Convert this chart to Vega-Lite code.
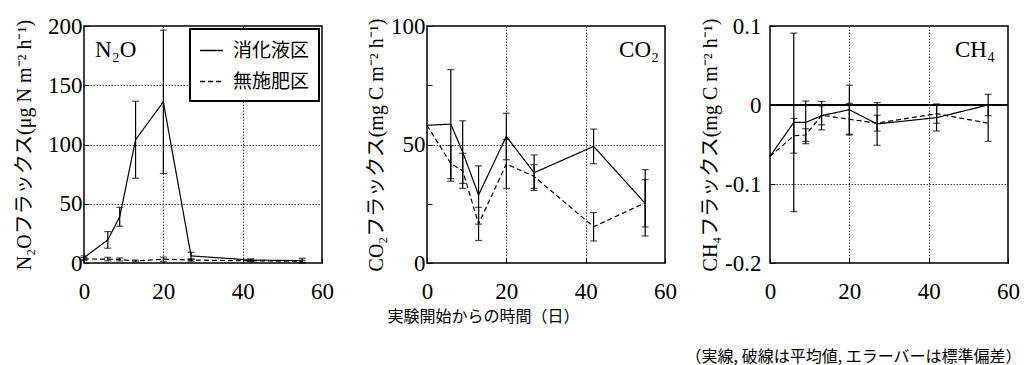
{
  "$schema": "https://vega.github.io/schema/vega-lite/v6.json",
  "padding": {"left": 13, "top": 14, "right": 0, "bottom": 0},
  "background": "white",
  "datasets": {
    "n2o": [
      {"day": 0, "series": "消化液区", "mean": 4.5, "sd": 1.5},
      {"day": 6, "series": "消化液区", "mean": 19.5, "sd": 7},
      {"day": 9, "series": "消化液区", "mean": 39, "sd": 8},
      {"day": 13, "series": "消化液区", "mean": 104, "sd": 32.5},
      {"day": 20, "series": "消化液区", "mean": 136, "sd": 60.5},
      {"day": 27, "series": "消化液区", "mean": 6, "sd": 3},
      {"day": 42, "series": "消化液区", "mean": 2.5, "sd": 1},
      {"day": 55, "series": "消化液区", "mean": 2, "sd": 2},
      {"day": 0, "series": "無施肥区", "mean": 3.4, "sd": 1.2},
      {"day": 6, "series": "無施肥区", "mean": 3.3, "sd": 1.5},
      {"day": 9, "series": "無施肥区", "mean": 3.0, "sd": 1.2},
      {"day": 13, "series": "無施肥区", "mean": 1.7, "sd": 0.8},
      {"day": 20, "series": "無施肥区", "mean": 3.2, "sd": 1.8},
      {"day": 27, "series": "無施肥区", "mean": 2.5, "sd": 1},
      {"day": 42, "series": "無施肥区", "mean": 1.8, "sd": 0.8},
      {"day": 55, "series": "無施肥区", "mean": 1.5, "sd": 0.8}
    ],
    "co2": [
      {"day": 0, "series": "消化液区", "mean": 58.1, "sd": null},
      {"day": 6, "series": "消化液区", "mean": 58.6, "sd": 23},
      {"day": 9, "series": "消化液区", "mean": 46.8, "sd": 13.2},
      {"day": 13, "series": "消化液区", "mean": 28.7, "sd": 12.3},
      {"day": 20, "series": "消化液区", "mean": 53.4, "sd": 9.8},
      {"day": 27, "series": "消化液区", "mean": 38.1, "sd": 7.5},
      {"day": 42, "series": "消化液区", "mean": 49.2, "sd": 7.3},
      {"day": 55, "series": "消化液区", "mean": 25.2, "sd": 10},
      {"day": 0, "series": "無施肥区", "mean": 58.1, "sd": null},
      {"day": 6, "series": "無施肥区", "mean": 42, "sd": 7.5},
      {"day": 9, "series": "無施肥区", "mean": 38.9, "sd": 7.4},
      {"day": 13, "series": "無施肥区", "mean": 16.5, "sd": 7},
      {"day": 20, "series": "無施肥区", "mean": 41.8, "sd": 10.3},
      {"day": 27, "series": "無施肥区", "mean": 36.5, "sd": 5},
      {"day": 42, "series": "無施肥区", "mean": 15.3, "sd": 6},
      {"day": 55, "series": "無施肥区", "mean": 25.4, "sd": 14}
    ],
    "ch4": [
      {"day": 0, "series": "消化液区", "mean": -0.065, "sd": null},
      {"day": 6, "series": "消化液区", "mean": -0.022, "sd": 0.113},
      {"day": 9, "series": "消化液区", "mean": -0.022, "sd": 0.027},
      {"day": 13, "series": "消化液区", "mean": -0.0135, "sd": 0.018},
      {"day": 20, "series": "消化液区", "mean": -0.006, "sd": 0.031},
      {"day": 27, "series": "消化液区", "mean": -0.024, "sd": 0.027},
      {"day": 42, "series": "消化液区", "mean": -0.016, "sd": 0.017},
      {"day": 55, "series": "消化液区", "mean": 0.0, "sd": 0.0135},
      {"day": 0, "series": "無施肥区", "mean": -0.065, "sd": null},
      {"day": 6, "series": "無施肥区", "mean": -0.039, "sd": 0.022},
      {"day": 9, "series": "無施肥区", "mean": -0.038, "sd": 0.008},
      {"day": 13, "series": "無施肥区", "mean": -0.013, "sd": 0.012},
      {"day": 20, "series": "無施肥区", "mean": -0.018, "sd": 0.02},
      {"day": 27, "series": "無施肥区", "mean": -0.023, "sd": 0.01},
      {"day": 42, "series": "無施肥区", "mean": -0.011, "sd": 0.012},
      {"day": 55, "series": "無施肥区", "mean": -0.023, "sd": 0.023}
    ]
  },
  "config": {
    "font": "Liberation Serif",
    "view": {"stroke": "black", "strokeWidth": 1.5},
    "axis": {
      "domain": false,
      "tickColor": "black",
      "tickSize": -5,
      "tickWidth": 1,
      "labelFont": "Liberation Serif",
      "labelFontSize": 23,
      "labelColor": "black",
      "labelOverlap": false,
      "labelFlush": false,
      "titleFont": "Liberation Serif, Noto Sans CJK JP",
      "titleFontSize": 20,
      "titleFontWeight": "normal",
      "titleColor": "black",
      "gridColor": "#444",
      "gridDash": [1.5, 1.5],
      "gridWidth": 1
    }
  },
  "bounds": "flush",
  "spacing": 105,
  "resolve": {"scale": {"strokeDash": "independent"}, "legend": {"strokeDash": "independent"}},
  "hconcat": [
    {
      "width": 238,
      "height": 237,
      "data": {"name": "n2o"},
      "layer": [
        {
          "mark": {"type": "line", "color": "black", "strokeWidth": 1.2},
          "encoding": {
            "x": {"field": "day", "type": "quantitative", "title": null, "scale": {"domain": [0, 60], "nice": false},
              "axis": {"values": [0, 10, 20, 30, 40, 50, 60], "labelExpr": "datum.value % 20 === 0 ? datum.label : ''", "labelPadding": 22, "grid": true,
                "gridOpacity": {"condition": {"test": "datum.value === 20 || datum.value === 40", "value": 1}, "value": 0}}},
            "y": {"field": "mean", "type": "quantitative", "title": "N₂Oフラックス(μg N m⁻² h⁻¹)", "scale": {"domain": [0, 200], "nice": false},
              "axis": {"values": [0, 25, 50, 75, 100, 125, 150, 175, 200], "labelExpr": "datum.value % 50 === 0 ? datum.label : ''", "labelPadding": 7, "minExtent": 39, "maxExtent": 39, "titlePadding": 11, "grid": true,
                "gridOpacity": {"condition": {"test": "datum.value === 50 || datum.value === 100 || datum.value === 150", "value": 1}, "value": 0}}},
            "strokeDash": {"field": "series", "type": "nominal",
              "scale": {"domain": ["消化液区", "無施肥区"], "range": [[1, 0], [5, 3]]},
              "legend": {"title": null, "orient": "top-right", "offset": 3, "strokeColor": "black", "fillColor": "white", "padding": 9,
                "labelFont": "Noto Sans CJK JP", "labelFontSize": 19, "labelColor": "black", "labelOffset": 9, "labelLimit": 200,
                "symbolType": "stroke", "symbolSize": 520, "symbolStrokeWidth": 1.3, "symbolStrokeColor": "black", "rowPadding": 8,
                "encode": {"legend": {"update": {"strokeWidth": {"value": 2}}}}}}
          }
        },
        {
          "transform": [{"filter": "isValid(datum.sd)"}],
          "mark": {"type": "errorbar", "ticks": true, "color": "black", "size": 7, "thickness": 1.2},
          "encoding": {
            "x": {"field": "day", "type": "quantitative", "title": null},
            "y": {"field": "mean", "type": "quantitative", "title": "N₂Oフラックス(μg N m⁻² h⁻¹)"},
            "yError": {"field": "sd"}
          }
        },
        {
          "data": {"values": [{"x": 2.8, "y": 174, "t": "N₂O"}]},
          "mark": {"type": "text", "align": "left", "baseline": "alphabetic", "fontSize": 23, "font": "Liberation Serif", "color": "black"},
          "encoding": {
            "x": {"field": "x", "type": "quantitative", "title": null},
            "y": {"field": "y", "type": "quantitative", "title": "N₂Oフラックス(μg N m⁻² h⁻¹)"},
            "text": {"field": "t"}
          }
        }
      ]
    },
    {
      "width": 238,
      "height": 237,
      "data": {"name": "co2"},
      "layer": [
        {
          "mark": {"type": "line", "color": "black", "strokeWidth": 1.2},
          "encoding": {
            "x": {"field": "day", "type": "quantitative", "title": "実験開始からの時間（日）", "scale": {"domain": [0, 60], "nice": false},
              "axis": {"values": [0, 10, 20, 30, 40, 50, 60], "labelExpr": "datum.value % 20 === 0 ? datum.label : ''", "labelPadding": 22, "grid": true,
                "gridOpacity": {"condition": {"test": "datum.value === 20 || datum.value === 40", "value": 1}, "value": 0},
                "titleFont": "Noto Sans CJK JP", "titleFontSize": 16, "titleX": 56, "titleY": 53, "titleAlign": "center", "titleBaseline": "middle"}},
            "y": {"field": "mean", "type": "quantitative", "title": "CO₂フラックス(mg C m⁻² h⁻¹)", "scale": {"domain": [0, 100], "nice": false},
              "axis": {"values": [0, 25, 50, 75, 100], "labelExpr": "datum.value % 50 === 0 ? datum.label : ''", "labelPadding": 7, "minExtent": 39, "maxExtent": 39, "titlePadding": 2, "grid": true,
                "gridOpacity": {"condition": {"test": "datum.value === 50", "value": 1}, "value": 0}}},
            "strokeDash": {"field": "series", "type": "nominal",
              "scale": {"domain": ["消化液区", "無施肥区"], "range": [[1, 0], [5, 3]]}, "legend": null}
          }
        },
        {
          "transform": [{"filter": "isValid(datum.sd)"}],
          "mark": {"type": "errorbar", "ticks": true, "color": "black", "size": 7, "thickness": 1.2},
          "encoding": {
            "x": {"field": "day", "type": "quantitative", "title": "実験開始からの時間（日）"},
            "y": {"field": "mean", "type": "quantitative", "title": "CO₂フラックス(mg C m⁻² h⁻¹)"},
            "yError": {"field": "sd"}
          }
        },
        {
          "data": {"values": [{"x": 58.5, "y": 87, "t": "CO₂"}]},
          "mark": {"type": "text", "align": "right", "baseline": "alphabetic", "fontSize": 23, "font": "Liberation Serif", "color": "black"},
          "encoding": {
            "x": {"field": "x", "type": "quantitative", "title": "実験開始からの時間（日）"},
            "y": {"field": "y", "type": "quantitative", "title": "CO₂フラックス(mg C m⁻² h⁻¹)"},
            "text": {"field": "t"}
          }
        }
      ]
    },
    {
      "width": 238,
      "height": 237,
      "data": {"name": "ch4"},
      "layer": [
        {
          "mark": {"type": "line", "color": "black", "strokeWidth": 1.2},
          "encoding": {
            "x": {"field": "day", "type": "quantitative", "title": "（実線, 破線は平均値, エラーバーは標準偏差）", "scale": {"domain": [0, 60], "nice": false},
              "axis": {"values": [0, 10, 20, 30, 40, 50, 60], "labelExpr": "datum.value % 20 === 0 ? datum.label : ''", "labelPadding": 22, "grid": true,
                "gridOpacity": {"condition": {"test": "datum.value === 20 || datum.value === 40", "value": 1}, "value": 0},
                "titleFont": "Noto Sans CJK JP", "titleFontSize": 16, "titleX": 251, "titleY": 93, "titleAlign": "right", "titleBaseline": "middle"}},
            "y": {"field": "mean", "type": "quantitative", "title": "CH₄フラックス(mg C m⁻² h⁻¹)", "scale": {"domain": [-0.2, 0.1], "nice": false},
              "axis": {"values": [-0.2, -0.15, -0.1, -0.05, 0, 0.05, 0.1],
                "labelExpr": "round(datum.value * 100) % 10 === 0 ? toString(round(datum.value * 10) / 10) : ''", "labelPadding": 14, "minExtent": 39, "maxExtent": 39, "titlePadding": 11, "grid": true,
                "gridOpacity": {"condition": {"test": "abs(datum.value + 0.1) < 0.000001", "value": 1}, "value": 0}}},
            "strokeDash": {"field": "series", "type": "nominal",
              "scale": {"domain": ["消化液区", "無施肥区"], "range": [[1, 0], [5, 3]]}, "legend": null}
          }
        },
        {
          "transform": [{"filter": "isValid(datum.sd)"}],
          "mark": {"type": "errorbar", "ticks": true, "color": "black", "size": 7, "thickness": 1.2},
          "encoding": {
            "x": {"field": "day", "type": "quantitative", "title": "（実線, 破線は平均値, エラーバーは標準偏差）"},
            "y": {"field": "mean", "type": "quantitative", "title": "CH₄フラックス(mg C m⁻² h⁻¹)"},
            "yError": {"field": "sd"}
          }
        },
        {
          "mark": {"type": "rule", "color": "black", "strokeWidth": 1.5},
          "encoding": {"y": {"datum": 0}}
        },
        {
          "data": {"values": [{"x": 56.7, "y": 0.061, "t": "CH₄"}]},
          "mark": {"type": "text", "align": "right", "baseline": "alphabetic", "fontSize": 23, "font": "Liberation Serif", "color": "black"},
          "encoding": {
            "x": {"field": "x", "type": "quantitative", "title": "（実線, 破線は平均値, エラーバーは標準偏差）"},
            "y": {"field": "y", "type": "quantitative", "title": "CH₄フラックス(mg C m⁻² h⁻¹)"},
            "text": {"field": "t"}
          }
        }
      ]
    }
  ]
}
